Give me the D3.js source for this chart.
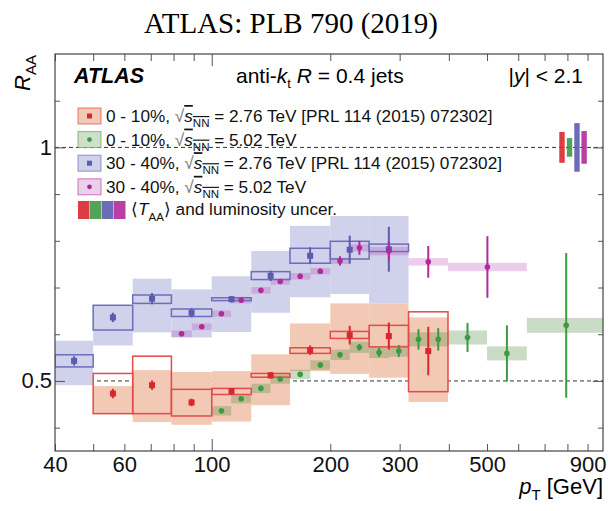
<!DOCTYPE html>
<html>
<head>
<meta charset="utf-8">
<script src="https://cdn.jsdelivr.net/npm/d3@7"></script>
<style>
  body { margin: 0; background: #fff; }
  text { font-family: "Liberation Sans", Arial, sans-serif; }
</style>
</head>
<body>
<div id="chart"></div>
<script>
// ---- data ----
// 0-10%, 2.76 TeV
const c010_276_lo = [50, 63, 79, 100, 126, 158, 200, 251, 316];
const c010_276_hi = [63, 79, 100, 126, 158, 200, 251, 316, 398];
const c010_276_val = [0.473, 0.491, 0.454, 0.478, 0.512, 0.566, 0.598, 0.596, 0.564];
const c010_276_stat = [0.010, 0.010, 0.008, 0.007, 0.007, 0.010, 0.020, 0.029, 0.052];
const c010_276_uncLo = [0.430, 0.430, 0.425, 0.471, 0.508, 0.559, 0.591, 0.573, 0.477];
const c010_276_uncHi = [0.516, 0.553, 0.482, 0.484, 0.516, 0.571, 0.606, 0.619, 0.648];
const c010_276_corLo = [0.430, 0.412, 0.406, 0.413, 0.448, 0.521, 0.515, 0.507, 0.455];
const c010_276_corHi = [0.489, 0.523, 0.519, 0.521, 0.557, 0.623, 0.666, 0.666, 0.636];

// 30-40%, 2.76 TeV
const c3040_276_lo = [40, 50, 63, 79, 100, 126, 158, 200, 251];
const c3040_276_hi = [50, 63, 79, 100, 126, 158, 200, 251, 316];
const c3040_276_val = [0.543, 0.636, 0.676, 0.646, 0.675, 0.725, 0.768, 0.781, 0.782];
const c3040_276_stat = [0.010, 0.010, 0.012, 0.010, 0.007, 0.011, 0.018, 0.030, 0.048];
const c3040_276_uncLo = [0.530, 0.609, 0.666, 0.638, 0.672, 0.717, 0.752, 0.761, 0.777];
const c3040_276_uncHi = [0.556, 0.662, 0.684, 0.654, 0.678, 0.734, 0.784, 0.799, 0.793];
const c3040_276_corLo = [0.491, 0.576, 0.604, 0.593, 0.605, 0.646, 0.679, 0.686, 0.666];
const c3040_276_corHi = [0.586, 0.662, 0.719, 0.696, 0.724, 0.778, 0.832, 0.853, 0.853];

// 0-10%, 5.02 TeV
const c010_502_lo = [100, 112, 126, 141, 158, 178, 200, 224, 251, 282, 316, 355, 398, 500, 631];
const c010_502_hi = [112, 126, 141, 158, 178, 200, 224, 251, 282, 316, 355, 398, 500, 631, 1000];
const c010_502_val = [0.436, 0.462, 0.484, 0.504, 0.514, 0.534, 0.556, 0.572, 0.561, 0.564, 0.589, 0.589, 0.593, 0.559, 0.619];
const c010_502_stat = [0.004, 0.004, 0.004, 0.004, 0.005, 0.005, 0.006, 0.007, 0.010, 0.013, 0.022, 0.024, 0.031, 0.060, 0.155];
const c010_502_syst = [0.010, 0.010, 0.010, 0.010, 0.010, 0.010, 0.011, 0.012, 0.012, 0.012, 0.015, 0.015, 0.015, 0.015, 0.016];

// 30-40%, 5.02 TeV
const c3040_502_lo = [79, 89, 100, 112, 126, 141, 158, 178, 200, 224, 251, 316, 398];
const c3040_502_hi = [89, 100, 112, 126, 141, 158, 178, 200, 224, 251, 316, 398, 631];
const c3040_502_val = [0.601, 0.616, 0.644, 0.673, 0.694, 0.713, 0.724, 0.735, 0.757, 0.785, 0.778, 0.755, 0.744];
const c3040_502_stat = [0.004, 0.004, 0.004, 0.004, 0.005, 0.005, 0.006, 0.006, 0.010, 0.015, 0.020, 0.034, 0.066];
const c3040_502_syst = [0.007, 0.007, 0.007, 0.007, 0.007, 0.007, 0.007, 0.007, 0.007, 0.008, 0.009, 0.008, 0.009];

// <TAA> and luminosity uncertainties (red, green, blue, magenta), drawn at R_AA = 1
const lumiPt = [775, 810, 846, 882];
const lumiUnc = [0.033, 0.020, 0.052, 0.035];

const xTicks = [40, 50, 60, 70, 80, 90, 100, 200, 300, 400, 500, 600, 700, 800, 900];
const xLabels = [40, 60, 100, 200, 300, 500, 900];
const yTicks = [0.4, 0.5, 0.6, 0.7, 0.8, 0.9, 1.0, 1.1];
const yLabels = [0.5, 1];

// ---- colours ----
const red = "#d8282e", green = "#3d9a40", blue = "#5b5bb0", magenta = "#b02a9c";

const W = 608, H = 511;
const margin = { top: 54, right: 5, bottom: 60, left: 55 };

const svg = d3.select("#chart").append("svg").attr("width", W).attr("height", H);

const x = d3.scaleLog().domain([40, 985]).range([margin.left, W - margin.right]);
const y = d3.scaleLinear().domain([0.35, 1.2]).range([H - margin.bottom, margin.top]);

svg.append("clipPath").attr("id", "clip")
  .append("rect")
  .attr("x", x.range()[0]).attr("y", y.range()[1])
  .attr("width", x.range()[1] - x.range()[0])
  .attr("height", y.range()[0] - y.range()[1]);

// title
svg.append("text")
  .attr("x", 291).attr("y", 33)
  .attr("text-anchor", "middle")
  .style("font-family", "'Liberation Serif', 'Times New Roman', serif")
  .style("font-size", "29px")
  .text("ATLAS: PLB 790 (2019)");

const plot = svg.append("g").attr("clip-path", "url(#clip)");

// reference dashed lines
plot.selectAll(".ref").data([0.5, 1]).join("line")
  .attr("x1", x.range()[0]).attr("x2", x.range()[1])
  .attr("y1", d => y(d)).attr("y2", d => y(d))
  .attr("stroke", "#333").attr("stroke-width", 1).attr("stroke-dasharray", "4,3");

function rows(lo, hi, val) {
  return val.map((v, i) => ({ lo: lo[i], hi: hi[i], v: v, i: i }));
}

// correlated uncertainty shading for 2.76 TeV
function shade(lo, hi, val, cLo, cHi, fill) {
  plot.append("g").selectAll("rect").data(rows(lo, hi, val)).join("rect")
    .attr("x", d => x(d.lo)).attr("width", d => x(d.hi) - x(d.lo))
    .attr("y", d => y(cHi[d.i])).attr("height", d => y(cLo[d.i]) - y(cHi[d.i]))
    .attr("fill", fill);
}
shade(c3040_276_lo, c3040_276_hi, c3040_276_val, c3040_276_corLo, c3040_276_corHi, "#d0d1ea");
shade(c010_276_lo, c010_276_hi, c010_276_val, c010_276_corLo, c010_276_corHi, "#f2c9b5");

// systematic boxes for 5.02 TeV (filled, translucent)
function systBox(lo, hi, val, syst, fill, op) {
  plot.append("g").selectAll("rect").data(rows(lo, hi, val)).join("rect")
    .attr("x", d => x(d.lo)).attr("width", d => x(d.hi) - x(d.lo))
    .attr("y", d => y(d.v + syst[d.i])).attr("height", d => y(d.v - syst[d.i]) - y(d.v + syst[d.i]))
    .attr("fill", fill).attr("fill-opacity", op);
}
systBox(c3040_502_lo, c3040_502_hi, c3040_502_val, c3040_502_syst, "#b44ab4", 0.27);
systBox(c010_502_lo, c010_502_hi, c010_502_val, c010_502_syst, "#4e8a3e", 0.3);

// open boxes for 2.76 TeV uncorrelated systematics
function openBox(lo, hi, val, uLo, uHi, col) {
  plot.append("g").selectAll("rect").data(rows(lo, hi, val)).join("rect")
    .attr("x", d => x(d.lo)).attr("width", d => x(d.hi) - x(d.lo))
    .attr("y", d => y(uHi[d.i])).attr("height", d => y(uLo[d.i]) - y(uHi[d.i]))
    .attr("fill", "none").attr("stroke", col).attr("stroke-width", 1.5);
}
openBox(c3040_276_lo, c3040_276_hi, c3040_276_val, c3040_276_uncLo, c3040_276_uncHi, "#6d6dbb");
openBox(c010_276_lo, c010_276_hi, c010_276_val, c010_276_uncLo, c010_276_uncHi, "#e44a4c");

// statistical error bars + markers
function points(lo, hi, val, stat, col, square) {
  const data = rows(lo, hi, val);
  const g = plot.append("g");
  const cx = d => x(Math.sqrt(d.lo * d.hi));
  g.selectAll("line").data(data).join("line")
    .attr("x1", cx).attr("x2", cx)
    .attr("y1", d => y(d.v + stat[d.i])).attr("y2", d => y(d.v - stat[d.i]))
    .attr("stroke", col).attr("stroke-width", 2);
  if (square) {
    g.selectAll("rect").data(data).join("rect")
      .attr("x", d => cx(d) - 3).attr("y", d => y(d.v) - 3)
      .attr("width", 6).attr("height", 6).attr("fill", col);
  } else {
    g.selectAll("circle").data(data).join("circle")
      .attr("cx", cx).attr("cy", d => y(d.v)).attr("r", 2.8).attr("fill", col);
  }
}
points(c3040_276_lo, c3040_276_hi, c3040_276_val, c3040_276_stat, blue, true);
points(c010_276_lo, c010_276_hi, c010_276_val, c010_276_stat, red, true);
points(c3040_502_lo, c3040_502_hi, c3040_502_val, c3040_502_stat, magenta, false);
points(c010_502_lo, c010_502_hi, c010_502_val, c010_502_stat, green, false);

// TAA + luminosity boxes at unity
const lumiCol = [red, green, blue, magenta];
plot.append("g").selectAll("rect").data(lumiUnc).join("rect")
  .attr("x", (d, i) => x(lumiPt[i]) - 2.7).attr("width", 5.4)
  .attr("y", d => y(1 + d)).attr("height", d => y(1 - d) - y(1 + d))
  .attr("fill", (d, i) => lumiCol[i]).attr("fill-opacity", 0.9);

// ---- axes (ticks inside, ROOT style) ----
const x0 = x.range()[0], x1 = x.range()[1], y0 = y.range()[0], y1 = y.range()[1];

const xAxis = svg.append("g").attr("transform", `translate(0,${y0})`)
  .call(d3.axisBottom(x).tickValues(xTicks).tickSize(-7).tickPadding(5)
    .tickFormat(d => xLabels.includes(d) ? d : ""));
xAxis.selectAll(".tick line").filter(d => d === 100).attr("y2", -12);
xAxis.selectAll("text").style("font-size", "22px").attr("fill", "#111");

const xTop = svg.append("g").attr("transform", `translate(0,${y1})`)
  .call(d3.axisTop(x).tickValues(xTicks).tickSize(-7).tickFormat(""));
xTop.selectAll(".tick line").filter(d => d === 100).attr("y2", 12);

const yAxis = svg.append("g").attr("transform", `translate(${x0},0)`)
  .call(d3.axisLeft(y).tickValues(yTicks).tickSize(-5).tickPadding(3)
    .tickFormat(d => yLabels.includes(d) ? d3.format("")(d) : ""));
yAxis.selectAll(".tick line").filter(d => yLabels.includes(d)).attr("x2", 10);
yAxis.selectAll("text").style("font-size", "22px").attr("fill", "#111");

const yRight = svg.append("g").attr("transform", `translate(${x1},0)`)
  .call(d3.axisRight(y).tickValues(yTicks).tickSize(-5).tickFormat(""));
yRight.selectAll(".tick line").filter(d => yLabels.includes(d)).attr("x2", -10);

[xAxis, xTop, yAxis, yRight].forEach(a => {
  a.select(".domain").remove();
  a.selectAll(".tick line").attr("stroke", "#555");
});

svg.append("rect")
  .attr("x", x0).attr("y", y1).attr("width", x1 - x0).attr("height", y0 - y1)
  .attr("fill", "none").attr("stroke", "#444").attr("stroke-width", 1.2);

// axis titles
const xt = svg.append("text").attr("x", x1).attr("y", 494)
  .attr("text-anchor", "end").style("font-size", "22px");
xt.append("tspan").style("font-style", "italic").text("p");
xt.append("tspan").attr("dy", 6).style("font-size", "15px").text("T");
xt.append("tspan").attr("dy", -6).text(" [GeV]");

const yt = svg.append("text").attr("transform", "translate(30,55) rotate(-90)")
  .attr("text-anchor", "end").style("font-size", "22px");
yt.append("tspan").style("font-style", "italic").text("R");
yt.append("tspan").attr("dy", 6).style("font-size", "15px").text("AA");

// ---- header texts ----
svg.append("text").attr("x", 74).attr("y", 83)
  .style("font-size", "21.5px").style("font-weight", "bold").style("font-style", "italic")
  .text("ATLAS");

const jt = svg.append("text").attr("x", 236).attr("y", 83).style("font-size", "21px");
jt.append("tspan").text("anti-");
jt.append("tspan").style("font-style", "italic").text("k");
jt.append("tspan").attr("dy", 5).style("font-size", "13px").text("t");
jt.append("tspan").attr("dy", -5).text(" ");
jt.append("tspan").style("font-style", "italic").text("R");
jt.append("tspan").text(" = 0.4 jets");

const yr = svg.append("text").attr("x", 583).attr("y", 83)
  .attr("text-anchor", "end").style("font-size", "21px");
yr.append("tspan").text("|");
yr.append("tspan").style("font-style", "italic").text("y");
yr.append("tspan").text("| < 2.1");

// ---- legend ----
const legCent = ["0 - 10%, ", "0 - 10%, ", "30 - 40%, ", "30 - 40%, "];
const legEnergy = [" = 2.76 TeV [PRL 114 (2015) 072302]", " = 5.02 TeV", " = 2.76 TeV [PRL 114 (2015) 072302]", " = 5.02 TeV"];
const legFill = ["#f2c9b5", "#cfe0c9", "#d0d1ea", "#ead0ea"];
const legCol = [red, green, blue, magenta];
const legSquare = [true, false, true, false];

const leg = svg.append("g");
legCent.forEach((c, i) => {
  const cy = 116 + i * 23.6;
  leg.append("rect").attr("x", 78).attr("y", cy - 8).attr("width", 23).attr("height", 16)
    .attr("fill", legFill[i]).attr("stroke", legCol[i]).attr("stroke-opacity", 0.6);
  if (legSquare[i]) {
    leg.append("rect").attr("x", 87).attr("y", cy - 2.5).attr("width", 5).attr("height", 5).attr("fill", legCol[i]);
  } else {
    leg.append("circle").attr("cx", 89.5).attr("cy", cy).attr("r", 2.4).attr("fill", legCol[i]);
  }
  const t = leg.append("text").attr("x", 106).attr("y", cy + 6).style("font-size", "17.2px").attr("fill", "#111");
  t.append("tspan").text(c);
  t.append("tspan").style("font-weight", "100").style("fill", "#777").text("√");
  t.append("tspan").style("font-style", "italic").style("text-decoration", "overline").text("s");
  t.append("tspan").attr("dy", 5).style("font-size", "11.5px").style("text-decoration", "overline").text("NN");
  t.append("tspan").attr("dy", -5).text(legEnergy[i]);
});

// TAA legend row
const taaY = 210;
leg.selectAll(".taa").data(lumiCol).join("rect")
  .attr("x", (d, i) => 78 + i * 12).attr("y", taaY - 9).attr("width", 11.5).attr("height", 18)
  .attr("fill", d => d).attr("fill-opacity", 0.9);
const tt = leg.append("text").attr("x", 131).attr("y", taaY + 5).style("font-size", "17.2px").attr("fill", "#111");
tt.append("tspan").text("⟨");
tt.append("tspan").style("font-style", "italic").text("T");
tt.append("tspan").attr("dy", 6).style("font-size", "11.5px").text("AA");
tt.append("tspan").attr("dy", -6).text("⟩ and luminosity uncer.");
</script>
</body>
</html>
